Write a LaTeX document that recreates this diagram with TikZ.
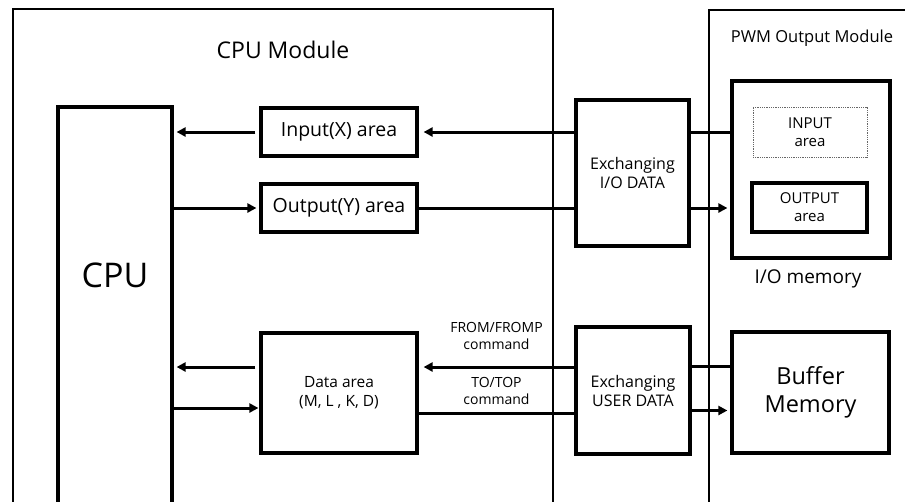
\documentclass[tikz,border=0pt]{standalone}
\usepackage{fontspec}
\setmainfont{Open Sans}
\usetikzlibrary{arrows.meta,positioning}

\begin{document}
\begin{tikzpicture}[x=1pt, y=-1pt,
    font=\color{black!80},
    frame/.style={draw, line width=2.4pt, minimum width=#1},
    box/.style={draw, line width=3.2pt, align=center, inner sep=0pt},
    txt/.style={align=center, inner sep=0pt},
    ln/.style={line width=3pt},
    arr/.style={-{Triangle[length=9pt,width=9pt]}, line width=3pt, shorten >=3pt}
  ]
  \useasboundingbox (0,0) rectangle (905,501);
  \clip (0,0) rectangle (905,501);

  % module frames (open towards the bottom)
  \node[frame=540pt, minimum height=531pt] (cpumod) at (283,274.5) {};
  \node[frame=221pt, minimum height=530pt] (pwmmod) at (819.5,275) {};
  \node[txt, font=\fontsize{23}{26}\selectfont] (cpumodtxt) at (283,50) {CPU Module};
  \node[txt, font=\fontsize{16.5}{19}\selectfont] (pwmmodtxt) at (812,38) {PWM Output Module};

  % CPU module
  \node[box, minimum width=114pt, minimum height=433pt] (cpu) at (115,323.5) {};
  \node[txt, font=\fontsize{34}{38}\selectfont] (cputxt) at (115,275) {CPU};
  \node[box, minimum width=156pt, minimum height=48pt, font=\fontsize{19.5}{22}\selectfont]
    (input) at (339,132) {Input(X) area};
  \node[box, minimum width=156pt, minimum height=48pt, font=\fontsize{19.5}{22}\selectfont]
    (output) at (339,208) {Output(Y) area};
  \node[box, minimum width=156pt, minimum height=120pt, font=\fontsize{15.5}{19}\selectfont]
    (data) at (339,393) {Data area\\(M, L , K, D)};

  % exchange blocks
  \node[box, minimum width=113pt, minimum height=146pt, font=\fontsize{16}{19}\selectfont]
    (xio) at (632.5,173) {Exchanging\\I/O DATA};
  \node[box, minimum width=114pt, minimum height=127pt, font=\fontsize{16}{19}\selectfont]
    (xuser) at (633,390.5) {Exchanging\\USER DATA};

  % PWM module
  \node[box, minimum width=158pt, minimum height=177pt] (iomem) at (811,169.5) {};
  \node[draw=black!60, densely dotted, line width=0.8pt, minimum width=114pt, minimum height=50pt,
    txt, font=\fontsize{15}{18}\selectfont] (inarea) at (810,132) {INPUT\\area};
  \node[box, minimum width=115pt, minimum height=49pt, font=\fontsize{15}{18}\selectfont]
    (outarea) at (809.5,207.5) {OUTPUT\\area};
  \node[txt, font=\fontsize{19}{22}\selectfont] (iomemtxt) at (808,279) {I/O memory};
  \node[box, minimum width=157pt, minimum height=121pt, font=\fontsize{23.5}{28}\selectfont]
    (buffer) at (810.5,392.5) {Buffer\\Memory};

  % I/O data path
  \draw[ln] (iomem.west |- input) -- (xio.east |- input);
  \draw[arr, shorten >=5pt] (xio.west |- input) -- (input.east);
  \draw[arr, shorten <=4pt] (input.west) -- (input.west -| cpu.east);
  \draw[arr] (cpu.east |- output) -- (output.west);
  \draw[ln] (output.east) -- (xio.west |- output);
  \draw[arr] (xio.east |- output) -- (iomem.west |- output);

  % user data path
  \draw[ln] ([yshift=26pt]buffer.west) -- ([yshift=26pt]buffer.west -| xuser.east);
  \draw[arr, shorten >=5pt] ([yshift=26pt]data.east -| xuser.west) -- node[txt, above=16pt,
    font=\fontsize{14}{17}\selectfont] (fromtxt) {FROM/FROMP\\command} ([yshift=26pt]data.east);
  \draw[arr, shorten <=4pt] ([yshift=26pt]data.west) -- ([yshift=26pt]data.west -| cpu.east);
  \draw[arr, shorten >=1pt] ([yshift=-15pt]cpu.east |- data) -- ([yshift=-15pt]data.west);
  \draw[ln] ([yshift=-20pt]data.east) -- ([yshift=-20pt]data.east -| xuser.west)
    node[pos=0.5, txt, above=7pt, font=\fontsize{14}{17}\selectfont] (totxt) {TO/TOP\\command};
  \draw[arr] ([yshift=-20pt]xuser.east) -- ([yshift=-20pt]xuser.east -| buffer.west);
\end{tikzpicture}
\end{document}
